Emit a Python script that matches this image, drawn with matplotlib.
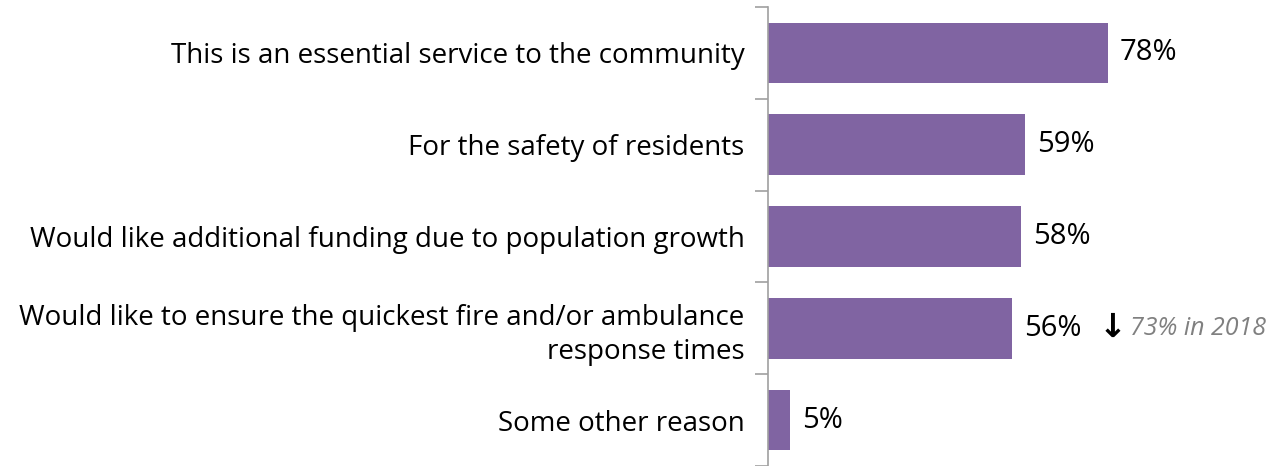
import matplotlib.pyplot as plt
import numpy as np

plt.rcParams['font.family'] = ['Open Sans', 'DejaVu Sans']

categories = ["This is an essential service to the community",
              "For the safety of residents",
              "Would like additional funding due to population growth",
              "Would like to ensure the quickest fire and/or ambulance\nresponse times",
              "Some other reason"]
values = [78, 59, 58, 56, 5]
labels = ["78%", "59%", "58%", "56%", "5%"]
note_idx = 3
note_text = "73% in 2018"

fig = plt.figure(figsize=(12.87, 4.66), dpi=100)
ax = fig.add_axes([768/1287, 0, 1 - 768/1287, 1 - 7/466])

y = np.arange(len(categories))
ax.barh(y, values, height=0.66, color="#8064A2")
ax.set_ylim(len(categories) - 0.5, -0.5)
ax.set_xlim(0, 119)

for i, (v, lab) in enumerate(zip(values, labels)):
    ax.annotate(lab, (v, i), xytext=(8.5, 0), textcoords="offset points",
                va="center", ha="left", fontsize=21, color="black")

# arrow + note for the 2018 comparison
v = values[note_idx]
ax.annotate("↓", (v, note_idx), xytext=(62, 1), textcoords="offset points",
            va="center", ha="left", fontsize=24, fontweight="bold",
            family=["DejaVu Sans"], color="black")
ax.annotate(note_text, (v, note_idx), xytext=(85, 0), textcoords="offset points",
            va="center", ha="left", fontsize=18, style="italic", color="#808080")

ax.set_yticks(np.arange(len(categories) + 1) - 0.5, minor=False)
ax.set_yticklabels([])
ax.set_yticks(y, minor=True)
ax.set_yticklabels(categories, minor=True, fontsize=20, linespacing=1.3)
ax.tick_params(axis="y", which="major", length=9.5, width=1.2, color="#a0a0a0")
ax.tick_params(axis="y", which="minor", length=0, pad=17)
ax.set_xticks([])

for s in ["top", "right", "bottom"]:
    ax.spines[s].set_visible(False)
ax.spines["left"].set_color("#a0a0a0")
ax.spines["left"].set_linewidth(1.2)

fig.savefig("out.png", dpi=100)
